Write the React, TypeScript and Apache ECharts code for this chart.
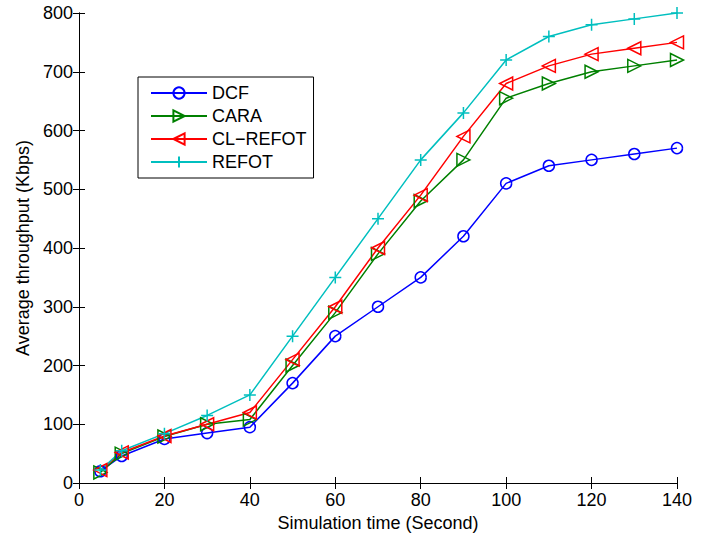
import React, { useEffect, useRef } from "react";
import * as echarts from "echarts";

const xValues = [5, 10, 20, 30, 40, 50, 60, 70, 80, 90, 100, 110, 120, 130, 140];
const dcf = [20, 46, 75, 85, 95, 170, 250, 300, 350, 420, 510, 540, 550, 560, 570];
const cara = [18, 50, 79, 100, 108, 200, 290, 390, 480, 550, 655, 680, 700, 710, 720];
const clRefot = [22, 52, 80, 100, 120, 210, 300, 400, 490, 590, 680, 710, 730, 740, 750];
const refot = [22, 55, 84, 115, 150, 250, 350, 450, 550, 630, 720, 760, 780, 790, 800];
const seriesNames = ["DCF", "CARA", "CL\u2212REFOT", "REFOT"];
const xTitle = "Simulation time (Second)";
const yTitle = "Average throughput (Kbps)";

const FONT = "'Liberation Sans', Arial, Helvetica, sans-serif";

export default function App() {
  const ref = useRef<HTMLDivElement>(null);
  useEffect(() => {
    if (!ref.current) return;
    const chart = echarts.init(ref.current, null, { renderer: "svg" });
    const pair = (ys: number[]) => xValues.map((x, i) => [x, ys[i]]);
    const mk = (name: string, data: number[], color: string, symbol: string, size: number, rotate = 0) => ({
      name,
      type: "line",
      data: pair(data),
      symbol,
      symbolSize: size,
      symbolRotate: rotate,
      showAllSymbol: true,
      lineStyle: { color, width: 1.5 },
      itemStyle: { color: "rgba(0,0,0,0)", borderColor: color, borderWidth: 1.5 },
      emphasis: { disabled: true },
    });
    const axisCommon = {
      axisLine: { show: true, lineStyle: { color: "#000", width: 1 } },
      axisTick: { show: true, inside: true, length: 6, lineStyle: { color: "#000" } },
      splitLine: { show: false },
    };
    chart.setOption({
      animation: false,
      backgroundColor: "#fff",
      grid: { left: 79, right: 38, top: 13, bottom: 52, outerBoundsMode: "none" },
      legend: {
        orient: "vertical",
        left: 138,
        top: 77,
        padding: [7, 7, 7, 12],
        itemWidth: 56,
        itemHeight: 14,
        itemGap: 5,
        borderColor: "#000",
        borderWidth: 1,
        backgroundColor: "#fff",
        textStyle: { fontFamily: FONT, fontSize: 18, lineHeight: 18, color: "#000" },
        data: seriesNames,
      },
      xAxis: [
        {
          type: "value",
          min: 0,
          max: 140,
          interval: 20,
          name: xTitle,
          nameLocation: "middle",
          nameGap: 28,
          nameTextStyle: { fontFamily: FONT, fontSize: 18, color: "#000" },
          axisLabel: { fontFamily: FONT, fontSize: 18, color: "#000", margin: 8 },
          ...axisCommon,
        },
        {
          type: "value",
          position: "top",
          min: 0,
          max: 140,
          interval: 20,
          axisLabel: { show: false },
          ...axisCommon,
        },
      ],
      yAxis: [
        {
          type: "value",
          min: 0,
          max: 800,
          interval: 100,
          name: yTitle,
          nameLocation: "middle",
          nameGap: 46,
          nameTextStyle: { fontFamily: FONT, fontSize: 18, color: "#000" },
          axisLabel: { fontFamily: FONT, fontSize: 18, color: "#000", margin: 6 },
          ...axisCommon,
        },
        {
          type: "value",
          position: "right",
          min: 0,
          max: 800,
          interval: 100,
          axisLabel: { show: false },
          ...axisCommon,
        },
      ],
      series: [
        mk(seriesNames[0], dcf, "#0000ff", "circle", 11),
        mk(seriesNames[1], cara, "#008000", "triangle", 13, -90),
        mk(seriesNames[2], clRefot, "#ff0000", "triangle", 13, 90),
        mk(seriesNames[3], refot, "#00bfbf", "path://M5,0 L5,10 M0,5 L10,5", 12),
      ],
    });
    return () => chart.dispose();
  }, []);
  return (
    <div
      ref={ref}
      style={{ position: "fixed", left: 0, top: 0, width: 715, height: 535 }}
    />
  );
}
